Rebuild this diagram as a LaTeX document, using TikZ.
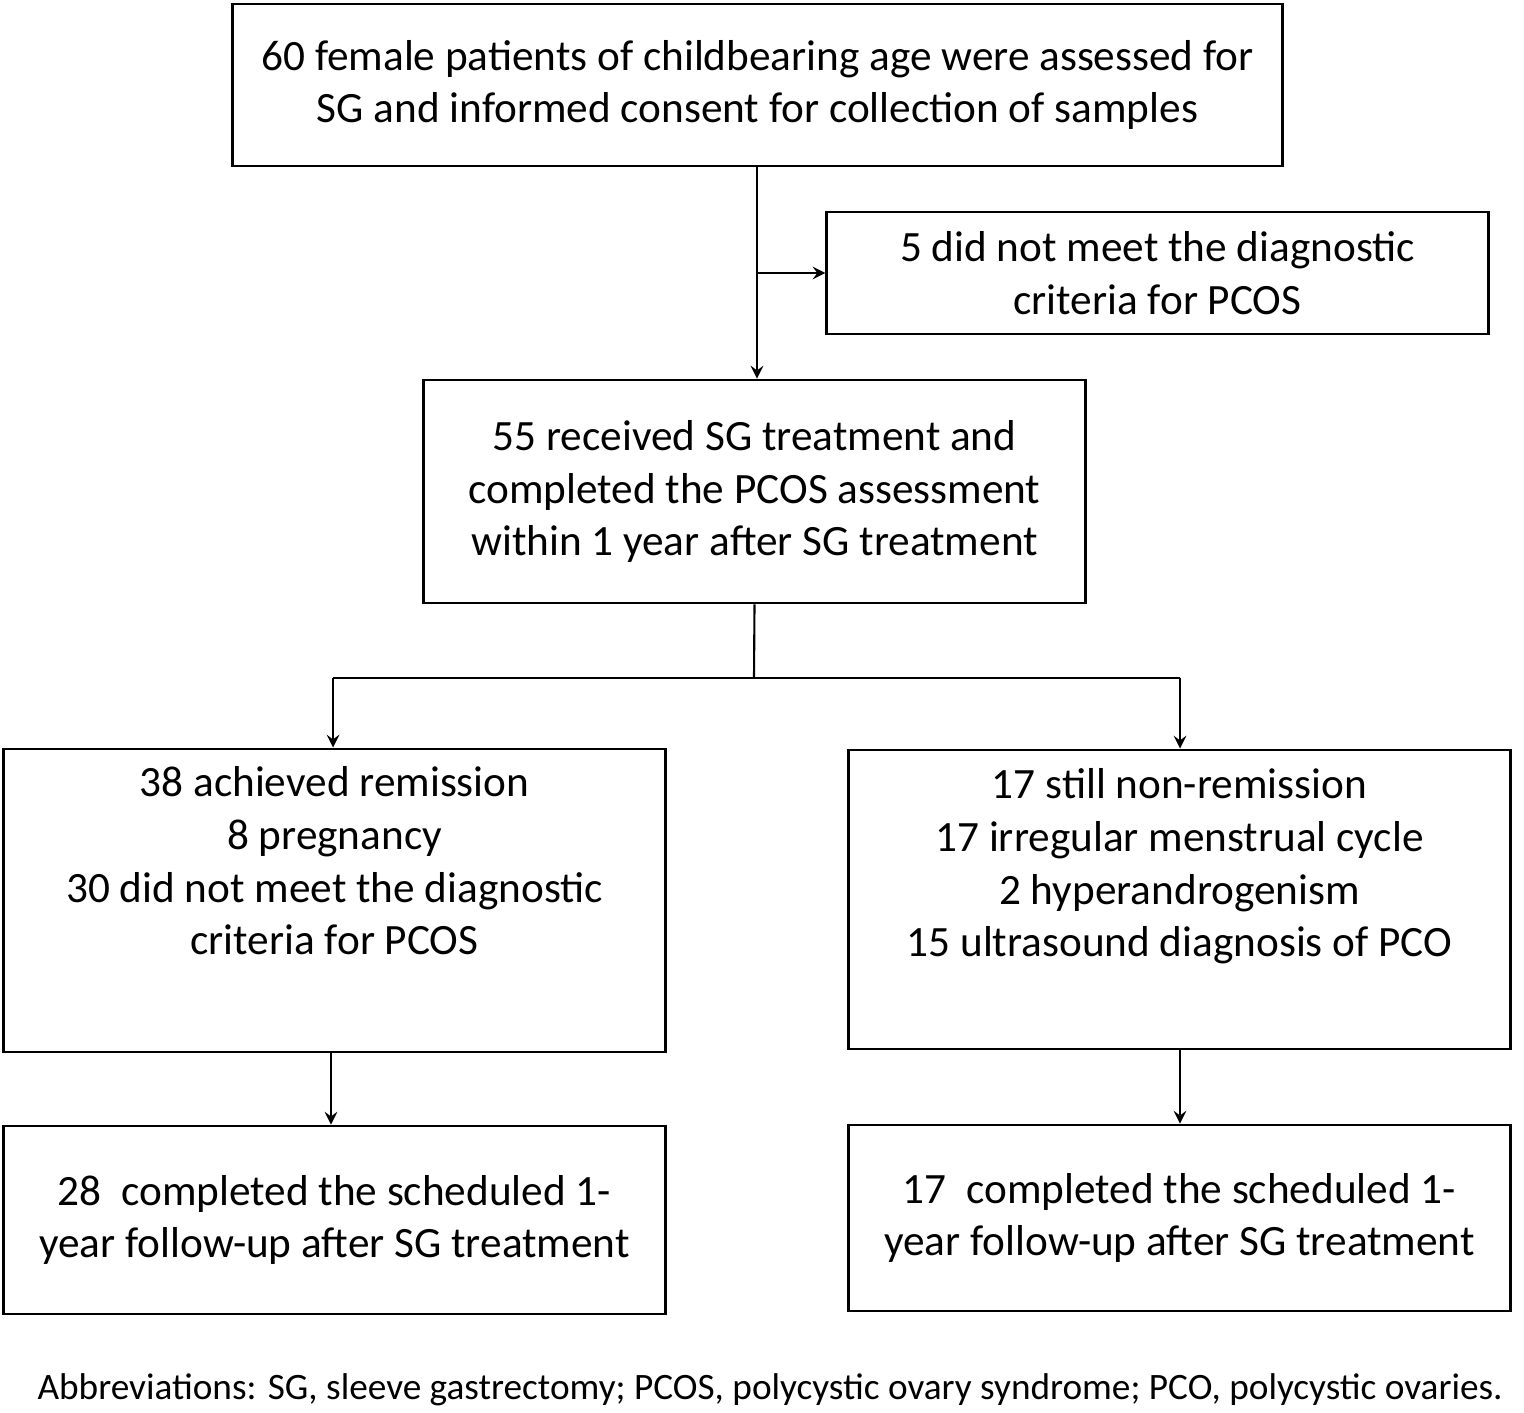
\documentclass[tikz,border=0pt]{standalone}
\usepackage{fontspec}
\setmainfont{Carlito}
\usetikzlibrary{positioning}
\begin{document}
\begin{tikzpicture}[x=0.01cm,y=-0.01cm,
    box/.style={draw, thick, inner sep=0pt, align=center, font=\fontsize{12.3}{15}\selectfont},
    txt/.style={inner sep=0pt, align=center, font=\fontsize{12.3}{15}\selectfont},
    arr/.style={->, >=stealth, semithick}]
  \useasboundingbox (0,0) rectangle (1524,1413);
  \node[box, minimum width=10.49cm, minimum height=1.62cm] (assess) at (757.5,85)
    {60 female patients of childbearing age were assessed for\\SG and informed consent for collection of samples};
  \node[box, minimum width=6.61cm, minimum height=1.22cm] (excl) at (1157.5,273)
    {5 did not meet the diagnostic\\criteria for PCOS};
  \node[box, minimum width=6.61cm, minimum height=2.23cm] (treat) at (754.5,491.5)
    {55 received SG treatment and\\completed the PCOS assessment\\within 1 year after SG treatment};
  \node[box, minimum width=6.61cm, minimum height=3.03cm] (remis) at (334.5,900.5) {};
  \node[txt, anchor=north] at (334.5,766)
    {38 achieved remission\\8 pregnancy\\30 did not meet the diagnostic\\criteria for PCOS};
  \node[box, minimum width=6.61cm, minimum height=2.99cm] (nonrem) at (1179.5,899.5) {};
  \node[txt, anchor=north] at (1179.5,768)
    {17 still non-remission\\17 irregular menstrual cycle\\2 hyperandrogenism\\15 ultrasound diagnosis of PCO};
  \node[box, minimum width=6.61cm, minimum height=1.88cm] (followl) at (334.5,1220)
    {28\ \ completed the scheduled 1-\\year follow-up after SG treatment};
  \node[box, minimum width=6.61cm, minimum height=1.86cm] (followr) at (1179.5,1218)
    {17\ \ completed the scheduled 1-\\year follow-up after SG treatment};
  \node[txt, font=\fontsize{10.6}{13}\selectfont] (abbr) at (770,1390)
    {Abbreviations: SG, sleeve gastrectomy; PCOS, polycystic ovary syndrome; PCO, polycystic ovaries.};
  \coordinate (split) at (757,273);
  \coordinate (fork) at (754,678);
  \coordinate (forkl) at (333,678);
  \coordinate (forkr) at (1180,678);
  \draw[arr] (assess.south -| split) -- (treat.north -| split);
  \draw[arr] (split) -- (excl.west);
  \draw[semithick] (treat.south) -- (fork);
  \draw[semithick] (forkl) -- (forkr);
  \draw[arr] (forkl) -- (remis.north -| forkl);
  \draw[arr] (forkr) -- (nonrem.north -| forkr);
  \draw[arr] (remis.south -| 331,0) -- (followl.north -| 331,0);
  \draw[arr] (nonrem.south -| 1180,0) -- (followr.north -| 1180,0);
\end{tikzpicture}
\end{document}
